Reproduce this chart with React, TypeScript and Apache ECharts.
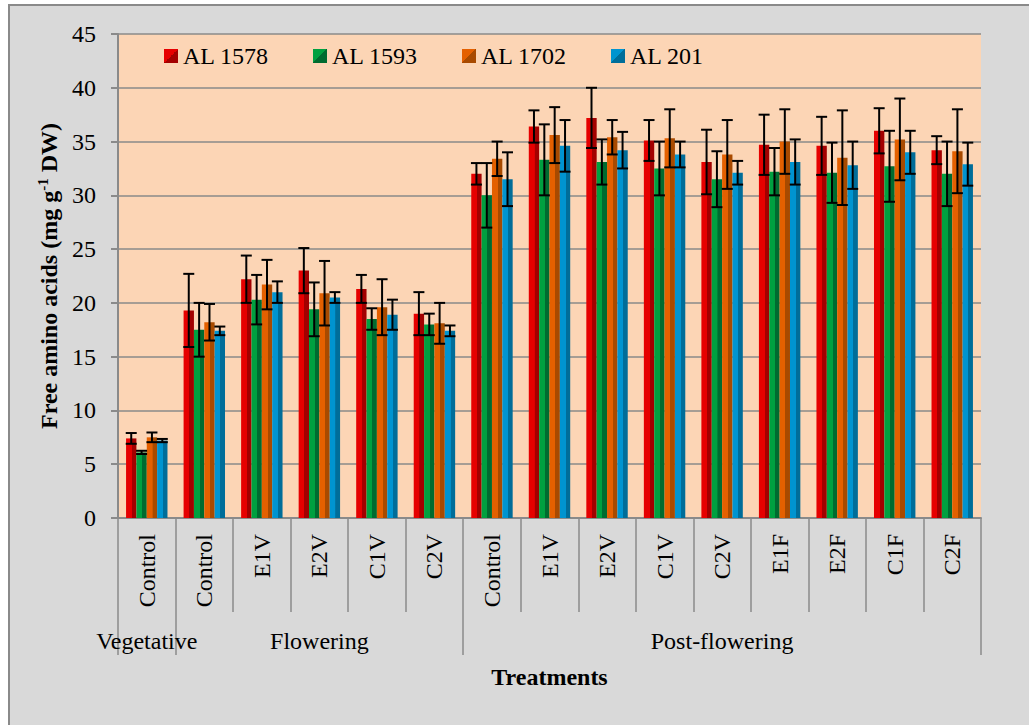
import React, { useEffect, useRef } from "react";
import * as echarts from "echarts";

const categories = ["Control", "Control", "E1V", "E2V", "C1V", "C2V", "Control", "E1V", "E2V", "C1V", "C2V", "E1F", "E2F", "C1F", "C2F"];
const groupNames = ["Vegetative", "Flowering", "Post-flowering"];
const groupSizes = [1, 5, 9];
const seriesNames = ["AL 1578", "AL 1593", "AL 1702", "AL 201"];

const al1578 = [7.4, 19.3, 22.2, 23.0, 21.3, 19.0, 32.0, 36.4, 37.2, 35.1, 33.1, 34.7, 34.6, 36.0, 34.2];
const al1578Err = [0.5, 3.4, 2.2, 2.1, 1.3, 2.0, 1.0, 1.5, 2.8, 1.9, 3.0, 2.8, 2.7, 2.1, 1.3];
const al1593 = [6.1, 17.5, 20.3, 19.4, 18.5, 18.0, 30.0, 33.3, 33.1, 32.5, 31.5, 32.2, 32.1, 32.7, 32.0];
const al1593Err = [0.15, 2.5, 2.3, 2.5, 1.0, 1.0, 3.0, 3.3, 2.1, 2.5, 2.6, 2.2, 2.8, 3.3, 3.0];
const al1702 = [7.5, 18.2, 21.7, 20.9, 19.6, 18.1, 33.4, 35.6, 35.4, 35.3, 33.8, 35.0, 33.5, 35.2, 34.1];
const al1702Err = [0.45, 1.7, 2.3, 3.0, 2.6, 1.9, 1.6, 2.6, 1.6, 2.7, 3.2, 3.0, 4.4, 3.8, 3.9];
const al201 = [7.2, 17.4, 21.0, 20.5, 18.9, 17.4, 31.5, 34.6, 34.2, 33.8, 32.1, 33.1, 32.8, 34.0, 32.9];
const al201Err = [0.15, 0.4, 1.0, 0.5, 1.4, 0.5, 2.5, 2.4, 1.7, 1.2, 1.1, 2.1, 2.2, 2.0, 2.0];

const yMin = 0;
const yMax = 45;
const yStep = 5;

const values = [al1578, al1593, al1702, al201];
const errors = [al1578Err, al1593Err, al1702Err, al201Err];
const lightColors = ["#e60000", "#00a040", "#e46000", "#0094d0"];
const darkColors = ["#a30000", "#006b30", "#a84a00", "#006d99"];

const FONT = "'Liberation Serif', 'Times New Roman', serif";
const BAR_FRACTION = 0.18;

export default function App() {
  const ref = useRef<HTMLDivElement>(null);

  useEffect(() => {
    if (!ref.current) return;
    const chart = echarts.init(ref.current, undefined, { renderer: "svg" });

    // group boundaries (tick indices) and group label indices (middle category)
    const boundaryIdx: number[] = [];
    const labelIdx: Record<number, string> = {};
    let start = 0;
    groupSizes.forEach((n, g) => {
      boundaryIdx.push(start);
      labelIdx[start + Math.floor(n / 2)] = groupNames[g];
      start += n;
    });

    const barSeries = seriesNames.map((name, i) => ({
      name,
      type: "bar",
      data: values[i],
      barWidth: BAR_FRACTION * 100 + "%",
      barGap: "0%",
      itemStyle: {
        color: new echarts.graphic.LinearGradient(0, 0, 1, 0, [
          { offset: 0, color: lightColors[i] },
          { offset: 0.55, color: lightColors[i] },
          { offset: 0.56, color: darkColors[i] },
          { offset: 1, color: darkColors[i] },
        ]),
      },
      z: 2,
    }));

    const errSeries = seriesNames.map((name, i) => ({
      name: name + " error",
      type: "custom",
      data: values[i].map((v, k) => [k, v, errors[i][k]]),
      encode: { x: 0, y: 1 },
      z: 5,
      renderItem: (params: any, api: any) => {
        const x = api.value(0);
        const v = api.value(1);
        const e = api.value(2);
        const hi = api.coord([x, v + e]);
        const lo = api.coord([x, v - e]);
        const band = api.size([1, 0])[0];
        const cx = hi[0] + (i - 1.5) * band * BAR_FRACTION;
        const hw = 5.5;
        const style = { stroke: "#000", lineWidth: 2 };
        return {
          type: "group",
          children: [
            { type: "line", shape: { x1: cx, y1: hi[1], x2: cx, y2: lo[1] }, style },
            { type: "line", shape: { x1: cx - hw, y1: hi[1], x2: cx + hw, y2: hi[1] }, style },
            { type: "line", shape: { x1: cx - hw, y1: lo[1], x2: cx + hw, y2: lo[1] }, style },
          ],
        };
      },
    }));

    const option: any = {
      animation: false,
      grid: {
        left: 118,
        top: 34,
        right: 48,
        bottom: 207,
        show: true,
        backgroundColor: "#fcd5b5",
        borderWidth: 0,
      },
      legend: {
        data: seriesNames.map((name, i) => ({
          name,
          itemStyle: {
            color: new echarts.graphic.LinearGradient(0, 0, 1, 1, [
              { offset: 0, color: lightColors[i] },
              { offset: 0.5, color: lightColors[i] },
              { offset: 0.5, color: darkColors[i] },
              { offset: 1, color: darkColors[i] },
            ]),
          },
        })),
        left: 164,
        top: 44,
        padding: 0,
        icon: "rect",
        itemWidth: 14,
        itemHeight: 14,
        itemGap: 44,
        textStyle: { fontFamily: FONT, fontSize: 24, color: "#000" },
      },
      xAxis: [
        {
          type: "category",
          data: categories,
          axisLine: { show: true, lineStyle: { color: "#8a8a8a", width: 2 } },
          axisTick: { show: true, interval: 0, length: 94, lineStyle: { color: "#8a8a8a", width: 1.5 } },
          axisLabel: {
            interval: 0,
            rotate: 90,
            margin: 16,
            fontFamily: FONT,
            fontSize: 24,
            color: "#000",
          },
        },
        {
          type: "category",
          data: categories,
          position: "bottom",
          offset: 94,
          axisLine: { show: false },
          axisTick: {
            show: true,
            length: 43,
            interval: (idx: number) => boundaryIdx.indexOf(idx) >= 0,
            lineStyle: { color: "#8a8a8a", width: 1.5 },
          },
          axisLabel: {
            interval: (idx: number) => labelIdx[idx] !== undefined,
            formatter: (_v: string, idx: number) => labelIdx[idx] || "",
            margin: 17,
            fontFamily: FONT,
            fontSize: 24,
            color: "#000",
          },
          name: "Treatments",
          nameLocation: "middle",
          nameGap: 53,
          nameTextStyle: { fontFamily: FONT, fontSize: 24, fontWeight: "bold", color: "#000" },
        },
      ],
      yAxis: {
        type: "value",
        min: yMin,
        max: yMax,
        interval: yStep,
        axisLine: { show: true, lineStyle: { color: "#8a8a8a", width: 2 } },
        axisTick: { show: true, length: 7, lineStyle: { color: "#8a8a8a", width: 2 } },
        splitLine: { show: true, lineStyle: { color: "#8a8a8a", width: 1.5 } },
        axisLabel: { margin: 22, fontFamily: FONT, fontSize: 24, color: "#000" },
        name: "{a|Free amino acids (mg g}{s|-1}{a| DW)}",
        nameLocation: "middle",
        nameRotate: 90,
        nameGap: 52,
        nameTextStyle: {
          fontFamily: FONT,
          fontSize: 24,
          fontWeight: "bold",
          color: "#000",
          rich: {
            a: { fontFamily: FONT, fontSize: 24, fontWeight: "bold", color: "#000", lineHeight: 28 },
            s: { fontFamily: FONT, fontSize: 15, fontWeight: "bold", color: "#000", verticalAlign: "top", lineHeight: 28, padding: [0, 0, 10, 0] },
          },
        },
      },
      series: [...barSeries, ...errSeries],
    };

    chart.setOption(option);
    return () => chart.dispose();
  }, []);

  return (
    <div style={{ position: "absolute", left: 0, top: 0, width: 1029, height: 725, overflow: "hidden", background: "#fff" }}>
      <div
        style={{
          position: "absolute",
          left: 8,
          top: 4,
          width: 1100,
          height: 800,
          background: "#d9d9d9",
          borderTop: "2px solid #8a8a8a",
          borderLeft: "2px solid #8a8a8a",
          boxSizing: "border-box",
        }}
      />
      <div ref={ref} style={{ position: "absolute", left: 0, top: 0, width: 1029, height: 725 }} />
    </div>
  );
}
